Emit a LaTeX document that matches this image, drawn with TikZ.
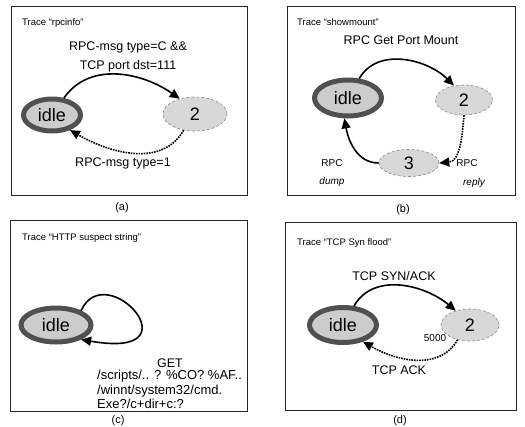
\documentclass[tikz,border=0pt]{standalone}
\usepackage{fontspec}
\setmainfont{Liberation Sans}
\usetikzlibrary{arrows.meta,positioning,shapes.geometric}
\definecolor{cring}{HTML}{505050}
\definecolor{cfill}{HTML}{CCCCCC}
\definecolor{cstate}{HTML}{D8D8D8}
\definecolor{cedge}{HTML}{8A8A8A}
\tikzset{
  panel/.style={draw=black!85, line width=0.8pt},
  idlest/.style={ellipse, draw=cring, line width=5pt, fill=cfill, inner sep=0pt, font=\fontsize{18}{18}\selectfont},
  st/.style={ellipse, draw=cedge, densely dashed, line width=0.6pt, fill=cstate, inner sep=0pt, font=\fontsize{18}{18}\selectfont},
  pre/.style={-{Triangle[length=10pt,width=9pt]}, line width=1.6pt},
  trig/.style={pre, densely dotted},
  ttl/.style={font=\fontsize{9.5}{11}\selectfont, anchor=west, inner sep=0pt},
  lbl/.style={font=\fontsize{12.5}{19}\selectfont, inner sep=0pt},
  sml/.style={font=\fontsize{10}{12}\selectfont, inner sep=0pt},
  captxt/.style={font=\fontsize{11}{13}\selectfont, inner sep=0pt},
}
\begin{document}
\begin{tikzpicture}[x=1pt,y=1pt]
\useasboundingbox (0,0) rectangle (525,-426);
% (a) rpcinfo
\draw[panel] (11,-6) rectangle (247,-195);
\node[ttl] (ta) at (22,-23) {Trace “rpcinfo”};
\node[lbl, align=center] (la1) at (128,-57) {RPC-msg type=C \&\&\\TCP port dst=111};
\node[idlest, minimum width=57, minimum height=32] (ia) at (52,-115) {idle};
\node[st, minimum width=64, minimum height=34] (sa) at (195,-114) {2};
\draw[pre] (ia.55) to[out=55,in=145] (sa.135);
\draw[trig] (sa.-125) to[out=-120,in=-30] (ia.-40);
\node[lbl] (la2) at (123,-163) {RPC-msg type=1};
\node[captxt] (ca) at (122,-208) {(a)};
% (b) showmount
\draw[panel] (287,-6) rectangle (515,-195);
\node[ttl] (tb) at (297,-22) {Trace “showmount”};
\node[lbl] (lb1) at (401,-40) {RPC Get Port Mount};
\node[idlest, minimum width=67, minimum height=36] (ib) at (348,-98) {idle};
\node[st, minimum width=57, minimum height=30] (sb2) at (464,-100) {2};
\node[st, minimum width=60, minimum height=27] (sb3) at (409,-163) {3};
\draw[pre] (ib.60) to[out=60,in=135] (sb2.125);
\draw[trig] (sb2.south) to[out=-95,in=5] (sb3.east);
\draw[pre] (sb3.west) to[out=180,in=-80] (ib.-100);
\node[sml] (lb2) at (332,-163) {RPC};
\node[sml, font=\fontsize{10}{12}\selectfont\itshape] (lb3) at (332,-182) {dump};
\node[sml] (lb4) at (467,-163) {RPC};
\node[sml, font=\fontsize{10}{12}\selectfont\itshape] (lb5) at (474,-183) {reply};
\node[captxt] (cb) at (403,-210) {(b)};
% (c) HTTP suspect string
\draw[panel] (10,-220) rectangle (247,-411);
\node[ttl] (tc) at (22,-238) {Trace “HTTP suspect string”};
\node[idlest, minimum width=70, minimum height=34] (ic) at (56,-325) {idle};
\draw[pre] (ic.30) .. controls +(65:60) and +(-10:120) .. (ic.-30);
\node[lbl] (lc1) at (170,-363) {GET};
\node[lbl, align=left, anchor=north west, font=\fontsize{13}{14.5}\selectfont] (lc2) at (97,-370) {/scripts/.. ? \%CO? \%AF..\\/winnt/system32/cmd.\\Exe?/c+dir+c:?};
\node[captxt] (cc) at (118,-421) {(c)};
% (d) TCP Syn flood
\draw[panel] (285,-222) rectangle (516,-410);
\node[ttl] (td) at (297,-243) {Trace “TCP Syn flood”};
\node[lbl] (ld1) at (394,-276) {TCP SYN/ACK};
\node[idlest, minimum width=67, minimum height=35] (id) at (343,-325) {idle};
\node[st, minimum width=58, minimum height=32] (sd) at (470,-325) {2};
\draw[pre] (id.60) to[out=60,in=140] (sd.135);
\draw[trig] (sd.-130) to[out=-120,in=-30] (id.-40);
\node[sml] (ld2) at (435,-338) {5000};
\node[lbl] (ld3) at (399,-370) {TCP ACK};
\node[captxt] (cd) at (400,-421) {(d)};
\end{tikzpicture}
\end{document}
